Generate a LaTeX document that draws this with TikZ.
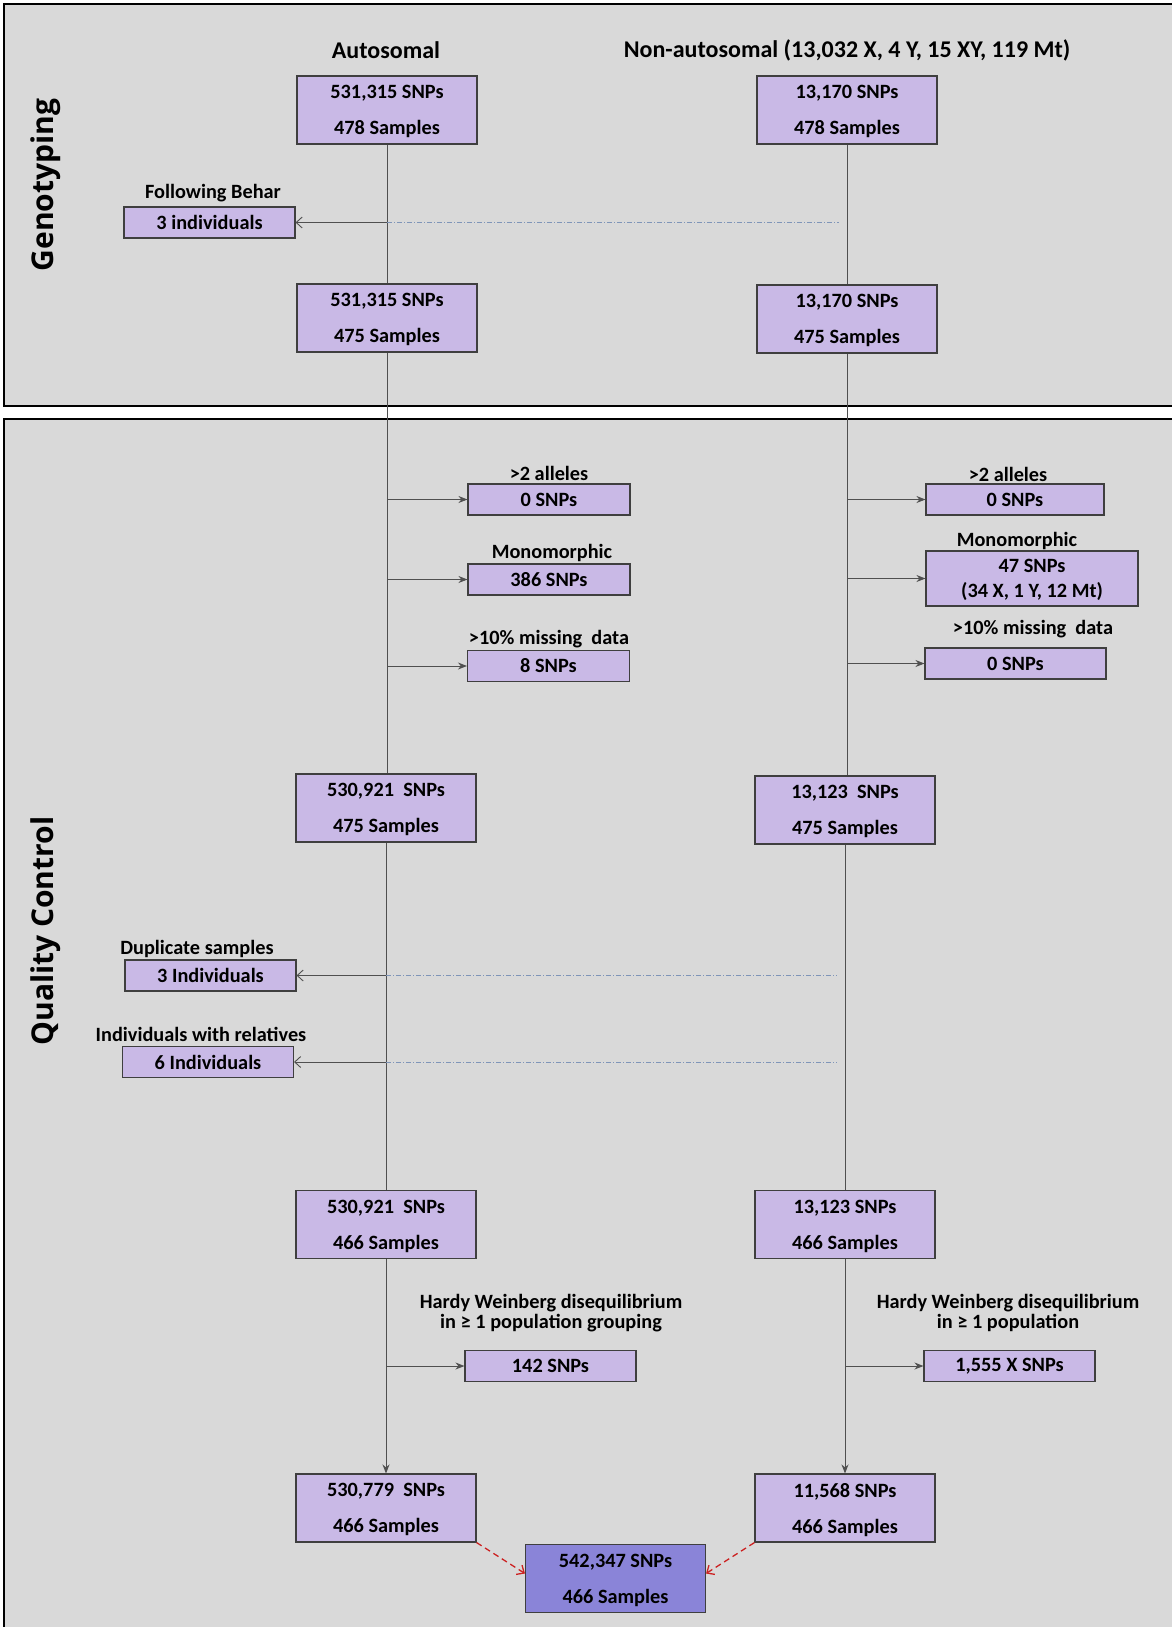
\documentclass[tikz,border=0pt]{standalone}
\usepackage{fontspec}
\setmainfont{Carlito}
\newfontfamily\sidefont{Open Sans}
\usetikzlibrary{arrows.meta}
\definecolor{panelfill}{HTML}{D9D9D9}
\definecolor{boxfill}{HTML}{C9B9E6}
\definecolor{finalfill}{HTML}{8A84D8}
\definecolor{boxline}{HTML}{3F3F3F}
\definecolor{flowline}{HTML}{505050}
\definecolor{dashline}{HTML}{7F95B8}
\definecolor{redline}{HTML}{CC2222}
\tikzset{
  panel/.style={draw=black, fill=panelfill, line width=2.5pt},
  bigbox/.style={draw=boxline, fill=boxfill, line width=1.1pt, minimum width=180pt, minimum height=68pt, inner sep=0pt, text depth=0pt, align=center, font=\fontsize{20.3}{36}\selectfont\bfseries},
  smallbox/.style={draw=boxline, fill=boxfill, line width=1.1pt, minimum width=162pt, minimum height=31pt, inner sep=0pt, align=center, font=\fontsize{20.3}{25}\selectfont\bfseries},
  lbl/.style={inner sep=0pt, align=center, font=\fontsize{20.3}{19.5}\selectfont\bfseries},
  head/.style={inner sep=0pt, font=\fontsize{24}{26}\selectfont\bfseries},
  side/.style={inner sep=0pt, rotate=90, font=\fontsize{30}{32}\selectfont\sidefont\bfseries},
  flow/.style={draw=flowline, line width=0.9pt},
  outarrow/.style={flow, -{Stealth[length=9pt,width=7pt]}},
  droparrow/.style={flow, -{Straight Barb[length=6pt,width=11pt]}},
  crossdash/.style={draw=dashline, line width=0.8pt, dash pattern=on 5pt off 2pt on 1pt off 2pt},
  mergearrow/.style={draw=redline, line width=1.3pt, dash pattern=on 6pt off 4pt, -{Straight Barb[length=6pt,width=11pt]}},
}
\begin{document}
\begin{tikzpicture}[x=1pt,y=-1pt]
\path[use as bounding box, clip] (0,0) rectangle (1172,1627);
\fill[white] (0,0) rectangle (1172,1627);
% panels
\path[panel] (4,4) rectangle (1190,406);
\path[panel] (4,419) rectangle (1190,1650);
\node[side] (gt) at (46,185) {Genotyping};
\node[side] (qc) at (46,931) {Quality Control};
% headers
\node[head] (hA) at (386,50) {Autosomal};
\node[head] (hN) at (847,50) {Non-autosomal (13,032 X, 4 Y, 15 XY, 119 Mt)};
% column boxes
\node[bigbox] (A1) at (387,110) {531,315 SNPs\\478 Samples};
\node[bigbox] (N1) at (847,110) {13,170 SNPs\\478 Samples};
\node[bigbox] (A2) at (387,318) {531,315 SNPs\\475 Samples};
\node[bigbox] (N2) at (847,319) {13,170 SNPs\\475 Samples};
\node[bigbox] (A3) at (386,808) {530,921\ \ SNPs\\475 Samples};
\node[bigbox] (N3) at (845,810) {13,123\ \ SNPs\\475 Samples};
\node[bigbox] (A4) at (386,1224.5) {530,921\ \ SNPs\\466 Samples};
\node[bigbox] (N4) at (845,1224.5) {13,123 SNPs\\466 Samples};
\node[bigbox] (A5) at (386,1508) {530,779\ \ SNPs\\466 Samples};
\node[bigbox] (N5) at (845,1508) {11,568 SNPs\\466 Samples};
\node[bigbox, fill=finalfill] (F) at (615.5,1578.5) {542,347 SNPs\\466 Samples};
% removed samples (left)
\node[lbl] (lB) at (213,193) {Following Behar};
\node[smallbox, minimum width=171pt] (B) at (209.5,222.5) {3 individuals};
\node[lbl] (lD1) at (197,949) {Duplicate samples};
\node[smallbox, minimum width=171pt] (D1) at (210.5,975.5) {3 Individuals};
\node[lbl] (lD2) at (201,1034) {Individuals with relatives};
\node[smallbox, minimum width=171pt] (D2) at (208,1062) {6 Individuals};
% removed SNPs autosomal
\node[lbl] (lS1) at (549,473) {>2 alleles};
\node[smallbox] (S1) at (549,499.5) {0 SNPs};
\node[lbl] (lS2) at (552,553) {Monomorphic};
\node[smallbox] (S2) at (549,579.5) {386 SNPs};
\node[lbl] (lS3) at (549,639) {>10\% missing\ \ data};
\node[smallbox] (S3) at (548.5,666) {8 SNPs};
\node[lbl] (lH1) at (551,1313) {Hardy Weinberg disequilibrium\\in ≥ 1 population grouping};
\node[smallbox, minimum width=171pt] (H1) at (550.5,1366) {142 SNPs};
% removed SNPs non-autosomal
\node[lbl] (lR1) at (1008,474) {>2 alleles};
\node[smallbox, minimum width=178pt] (R1) at (1015,499.5) {0 SNPs};
\node[lbl] (lR2) at (1017,541) {Monomorphic};
\node[smallbox, minimum width=212pt, minimum height=55pt, text depth=0pt] (R2) at (1032,578.5) {47 SNPs\\(34 X, 1 Y, 12 Mt)};
\node[lbl] (lR3) at (1033,629) {>10\% missing\ \ data};
\node[smallbox, minimum width=181pt] (R3) at (1015.5,663.5) {0 SNPs};
\node[lbl] (lH2) at (1008,1313) {Hardy Weinberg disequilibrium\\in ≥ 1 population};
\node[smallbox, minimum width=171pt] (H2) at (1009.5,1366) {1,555 X SNPs};
% vertical flow lines
\draw[flow] (A1.south) -- (A2.north);
\draw[flow] (A2.south) -- (A2.south |- A3.north);
\draw[flow] (A3.south) -- (A4.north);
\draw[outarrow] (A4.south) -- (A5.north);
\draw[flow] (N1.south) -- (N2.north);
\draw[flow] (N2.south) -- (N2.south |- N3.north);
\draw[flow] (N3.south) -- (N4.north);
\draw[outarrow] (N4.south) -- (N5.north);
% branch points
\coordinate (aB) at (A1.south |- B.east);
\coordinate (nB) at ([xshift=-8pt]N1.south |- B.east);
\coordinate (aD1) at (A3.south |- D1.east);
\coordinate (nD1) at ([xshift=-8pt]N3.south |- D1.east);
\coordinate (aD2) at (A3.south |- D2.east);
\coordinate (nD2) at ([xshift=-8pt]N3.south |- D2.east);
% sample removals
\draw[droparrow] (aB) -- (B.east);
\draw[crossdash] (aB) -- (nB);
\draw[droparrow] (aD1) -- (D1.east);
\draw[crossdash] (aD1) -- (nD1);
\draw[droparrow] (aD2) -- (D2.east);
\draw[crossdash] (aD2) -- (nD2);
% SNP removals
\draw[outarrow] (A2.south |- S1.west) -- (S1.west);
\draw[outarrow] (A2.south |- S2.west) -- (S2.west);
\draw[outarrow] (A2.south |- S3.west) -- (S3.west);
\draw[outarrow] (A4.south |- H1.west) -- (H1.west);
\draw[outarrow] (N2.south |- R1.west) -- (R1.west);
\draw[outarrow] (N2.south |- R2.west) -- (R2.west);
\draw[outarrow] (N2.south |- R3.west) -- (R3.west);
\draw[outarrow] (N4.south |- H2.west) -- (H2.west);
% merge
\draw[mergearrow] (A5.south east) -- ([yshift=5pt]F.west);
\draw[mergearrow] (N5.south west) -- ([yshift=5pt]F.east);
\end{tikzpicture}
\end{document}
